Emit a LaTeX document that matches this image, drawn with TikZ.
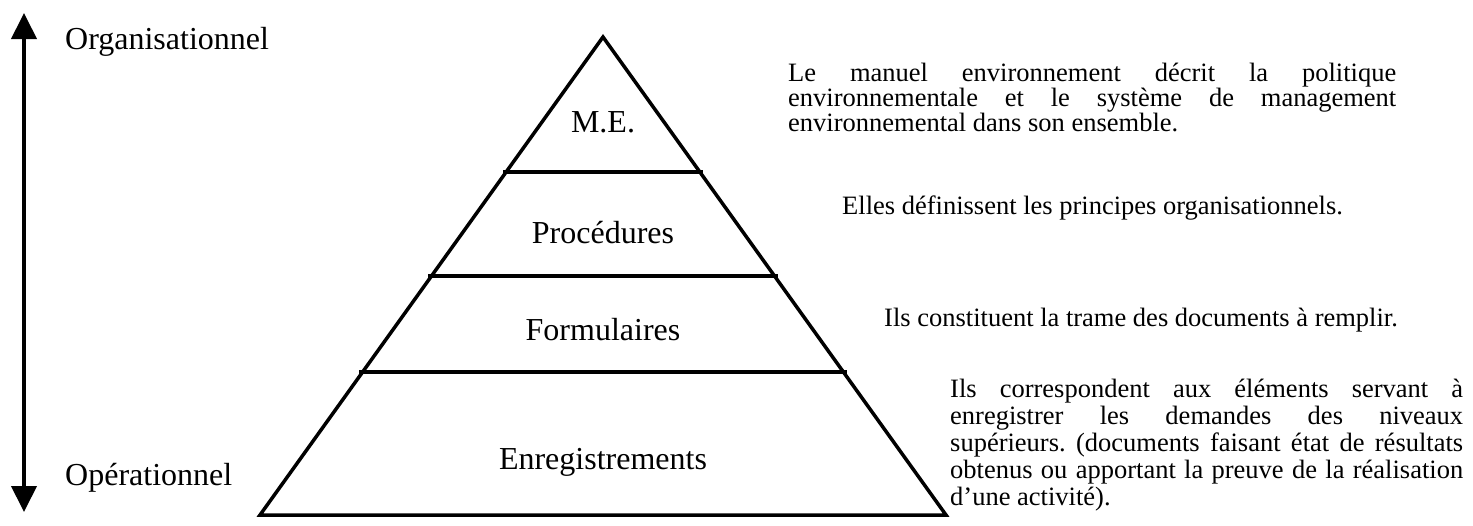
\documentclass[tikz,border=0pt]{standalone}
\usepackage{fontspec}
\setmainfont{Liberation Serif}
\usetikzlibrary{arrows.meta}
\hyphenpenalty=10000
\exhyphenpenalty=10000
\hbadness=10000
\frenchspacing
\begin{document}
\begin{tikzpicture}[x=1pt,y=-1pt,
  big/.style={font=\fontsize{32}{36}\selectfont, inner sep=0pt},
  txt/.style={font=\fontsize{26.5}{27}\selectfont, inner sep=0pt},
  para/.style={txt, anchor=north west, align=justify},
  edge/.style={line width=3.5pt, line join=miter},
  axis/.style={line width=4pt, {Triangle[length=26pt,width=25pt]}-{Triangle[length=26pt,width=25pt]}}]
\useasboundingbox (0,0) rectangle (1473,525);
% vertical axis
\coordinate (atop) at (24,13);
\coordinate (abot) at (24,512);
\draw[axis] (abot) -- (atop);
\node[big, anchor=west] (org) at (65,42) {Organisationnel};
\node[big, anchor=west] (ope) at (65,478) {Opérationnel};
% pyramid
\coordinate (apex) at (603,37);
\coordinate (bl) at (260,515);
\coordinate (br) at (946,515);
\draw[edge] (apex) -- (bl) -- (br) -- cycle;
\coordinate (l1a) at (503,172); \coordinate (l1b) at (703,172);
\coordinate (l2a) at (428,276); \coordinate (l2b) at (778,276);
\coordinate (l3a) at (359,372); \coordinate (l3b) at (847,372);
\draw[edge] (l1a) -- (l1b);
\draw[edge] (l2a) -- (l2b);
\draw[edge] (l3a) -- (l3b);
\node[big] (me) at (603,122) {M.E.};
\node[big] (proc) at (603,233) {Procédures};
\node[big] (form) at (603,330) {Formulaires};
\node[big] (enr) at (603,462) {Enregistrements};
% descriptions
\node[para, text width=608pt, font=\fontsize{26.5}{23.5}\selectfont] (d1) at (788,63) {Le manuel environnement décrit la politique\linebreak environnementale et le système de management\linebreak environnemental dans son ensemble.};
\node[txt, anchor=west] (d2) at (842,208) {Elles définissent les principes organisationnels.};
\node[txt, anchor=west] (d3) at (884,320) {Ils constituent la trame des documents à remplir.};
\node[para, text width=513pt] (d4) at (950,379) {Ils correspondent aux éléments servant à\linebreak enregistrer les demandes des niveaux\linebreak supérieurs. (documents faisant état de résultats\linebreak obtenus ou apportant la preuve de la réalisation\linebreak d’une activité).};
\end{tikzpicture}
\end{document}
